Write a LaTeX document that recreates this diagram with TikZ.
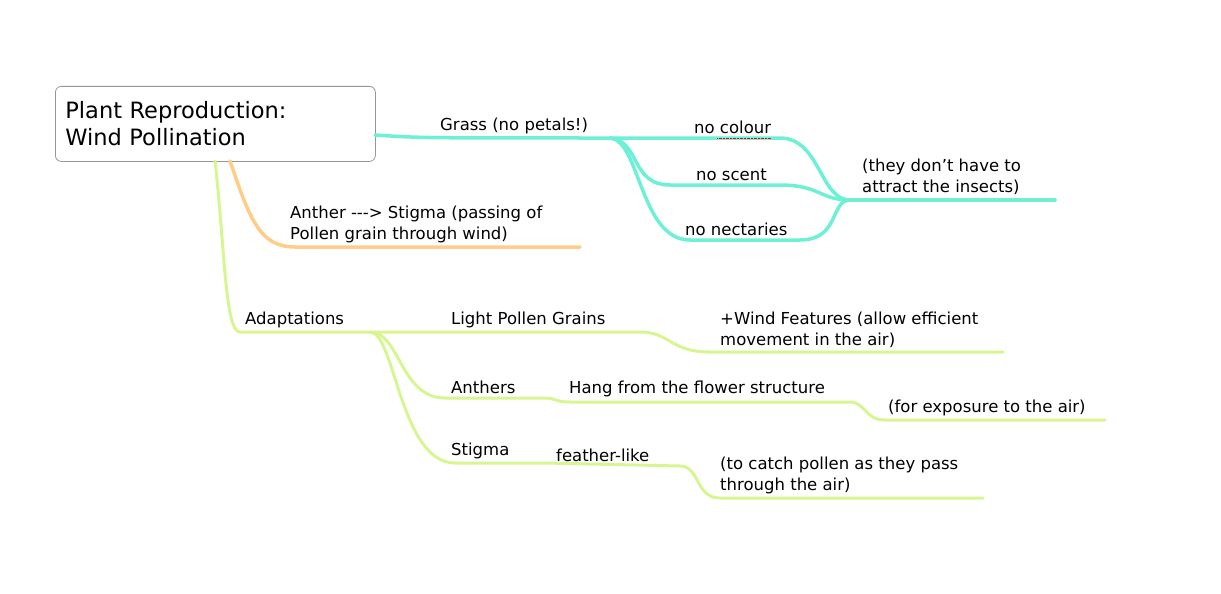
\documentclass[tikz,border=0pt]{standalone}
\usepackage{fontspec}
\setmainfont{DejaVu Sans}
\begin{document}
\begin{tikzpicture}[x=1pt,y=-1pt,
  txt/.style={anchor=south west, inner sep=2pt, font=\fontsize{16.5}{21}\selectfont},
  teal/.style={line width=3.5pt, draw={rgb,255:red,110;green,240;blue,215}, line cap=round},
  orng/.style={line width=3.5pt, draw={rgb,255:red,255;green,205;blue,135}, line cap=round},
  grn/.style={line width=3pt, draw={rgb,255:red,215;green,245;blue,145}, line cap=round},
]
\useasboundingbox (0,0) rectangle (1221,594);

% root
\node[draw={rgb,255:red,150;green,150;blue,150}, thick, rounded corners=6pt, fill=white,
  minimum width=320pt, minimum height=75pt, anchor=north west, align=left,
  text width=300pt, font=\fontsize{22.5}{27}\selectfont] (root) at (55,86)
  {Plant Reproduction:\\Wind Pollination};

% coordinates
\coordinate (rootR) at (375,135);
\coordinate (grassE) at (610,138);
\coordinate (insJ) at (850,200);
\coordinate (insE) at (1055,200);
\coordinate (adapt) at (240,332);
\coordinate (adaptE) at (370,332);

% grass branch
\draw[teal] (rootR) .. controls (420,138) .. (grassE);
\draw[teal] (grassE) -- (780,138) .. controls (820,138) and (820,200) .. (insJ);
\draw[teal] (grassE) .. controls (640,140) and (630,185) .. (670,185) -- (780,185) .. controls (820,185) and (820,200) .. (insJ);
\draw[teal] (grassE) .. controls (640,140) and (640,240) .. (690,240) -- (800,240) .. controls (840,240) and (830,200) .. (insJ);
\draw[teal] (insJ) -- (insE);

\node[txt] (grass) at (438,136) {Grass (no petals!)};
\node[txt] (colour) at (692,136) {no colour};
\draw[red, densely dotted, thin] ([xshift=-56pt,yshift=-2pt]colour.south east) -- ([xshift=-2pt,yshift=-2pt]colour.south east);
\node[txt] (scent) at (694,183) {no scent};
\node[txt] (nect) at (683,238) {no nectaries};
\node[txt, align=left] (insects) at (860,197) {(they don't have to\\attract the insects)};

% anther branch
\draw[orng] (230,161) .. controls (250,220) and (260,247) .. (295,247) -- (580,247);
\node[txt, align=left] (anther) at (288,245) {Anther {-}{-}{-}> Stigma (passing of\\Pollen grain through wind)};

% adaptations
\draw[grn] (215,161) .. controls (225,250) and (225,332) .. (adapt) -- (adaptE);
\draw[grn] (adaptE) -- (640,332) .. controls (670,332) and (670,352) .. (710,352) -- (1003,352);
\draw[grn] (adaptE) .. controls (400,332) and (400,398) .. (445,398) -- (545,398) .. controls (555,398) and (555,402) .. (570,402) -- (850,402) .. controls (865,402) and (865,420) .. (885,420) -- (1105,420);
\draw[grn] (adaptE) .. controls (395,332) and (400,463) .. (455,463) -- (545,463) -- (680,466) .. controls (700,466) and (695,498) .. (720,498) -- (983,498);

\node[txt] (adtxt) at (243,330) {Adaptations};
\node[txt] (light) at (449,330) {Light Pollen Grains};
\node[txt, align=left] (wind) at (718,350) {+Wind Features (allow efficient\\movement in the air)};
\node[txt] (anthers) at (449,396) {Anthers};
\node[txt] (hang) at (567,399) {Hang from the flower structure};
\node[txt] (expo) at (886,418) {(for exposure to the air)};
\node[txt] (stigma) at (449,461) {Stigma};
\node[txt] (feather) at (554,464) {feather-like};
\node[txt, align=left] (catch) at (718,496) {(to catch pollen as they pass\\through the air)};
\end{tikzpicture}
\end{document}
